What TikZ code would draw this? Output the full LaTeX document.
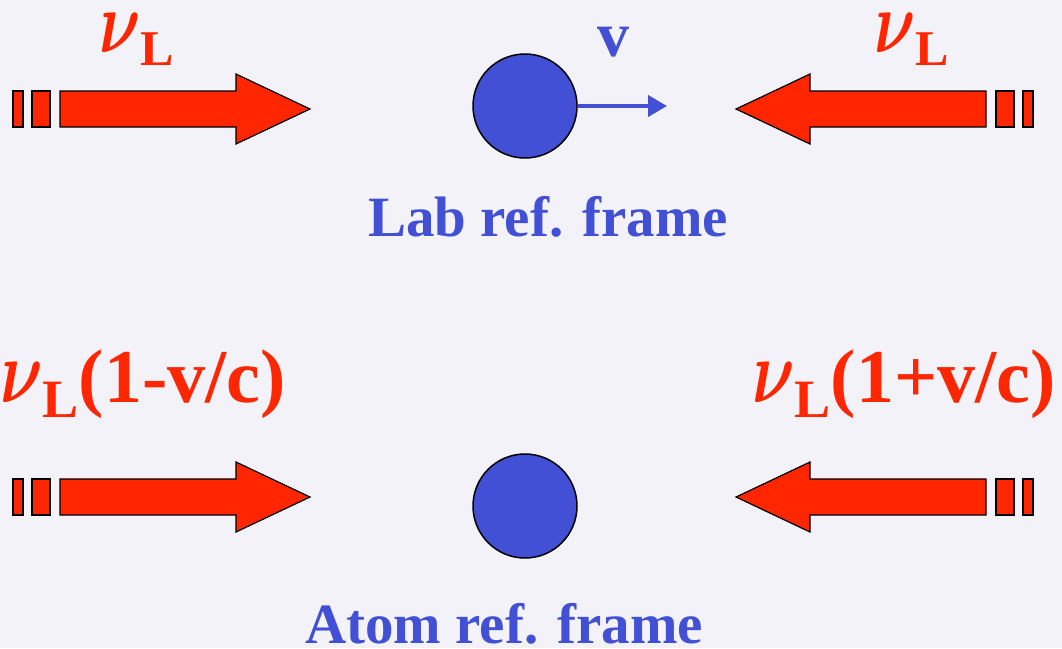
\documentclass[tikz,border=0pt]{standalone}
\usepackage{amsmath}
\usepackage{fontspec}
\setmainfont{Liberation Serif}
\usetikzlibrary{arrows.meta}
\definecolor{slidebg}{RGB}{243,242,248}
\definecolor{laserred}{RGB}{255,38,0}
\definecolor{atomblue}{RGB}{66,80,214}
\newcommand{\nusub}[4]{\scalebox{#1}[#2]{$\boldsymbol{\nu}$}\raisebox{-#4pt}{\fontsize{#3}{#3}\selectfont L}}

\begin{document}
\begin{tikzpicture}[x=1pt,y=-1pt,
  beam/.style={fill=laserred,draw=black,line width=1.2pt},
  atom/.style={circle,fill=atomblue,draw=black,line width=1.5pt,minimum size=104pt,inner sep=0pt},
  redlabel/.style={text=laserred,font=\bfseries,inner sep=0pt,anchor=base west},
  bluelabel/.style={text=atomblue,font=\bfseries\fontsize{57}{60}\selectfont,inner sep=0pt,anchor=base west},
  laser/.pic={
    \filldraw[beam] (-297,-18) rectangle (-287,18);
    \filldraw[beam] (-278,-18) rectangle (-260,18);
    \filldraw[beam] (-250,-18) -- (-74,-18) -- (-74,-35) -- (0,0) -- (-74,35) -- (-74,18) -- (-250,18) -- cycle;
  }]
\fill[slidebg] (0,0) rectangle (1062,648);
\useasboundingbox (0,0) rectangle (1062,648);
% lab frame
\pic at (310,109) {laser};
\pic[xscale=-1] at (736,109) {laser};
\node[atom] (labatom) at (525,106) {};
\coordinate (vtip) at (667,106);
\draw[atomblue,line width=4pt,-{Triangle[length=19pt,width=21pt]}] (labatom.east) -- (vtip);
\node[redlabel] (nuleft) at (99,52) {\nusub{6.4}{8.8}{50}{13}};
\node[redlabel] (nuright) at (874,52) {\nusub{6.4}{8.8}{50}{13}};
\node[bluelabel,font=\bfseries\fontsize{64}{64}\selectfont] (vlabel) at (597,56) {v};
\node[bluelabel] (labname) at (368,236) {Lab ref. frame};
% atom frame
\pic at (310,497) {laser};
\pic[xscale=-1] at (736,497) {laser};
\node[atom] (restatom) at (525,506) {};
\node[redlabel] (redshift) at (0,402) {\nusub{6.6}{9}{54}{15}{\fontsize{76}{76}\selectfont(1-v/c)}};
\node[redlabel] (blueshift) at (752,402) {\nusub{6.6}{9}{54}{15}{\fontsize{76}{76}\selectfont(1+v/c)}};
\node[bluelabel] (atomname) at (305,643) {Atom ref. frame};
\end{tikzpicture}
\end{document}
